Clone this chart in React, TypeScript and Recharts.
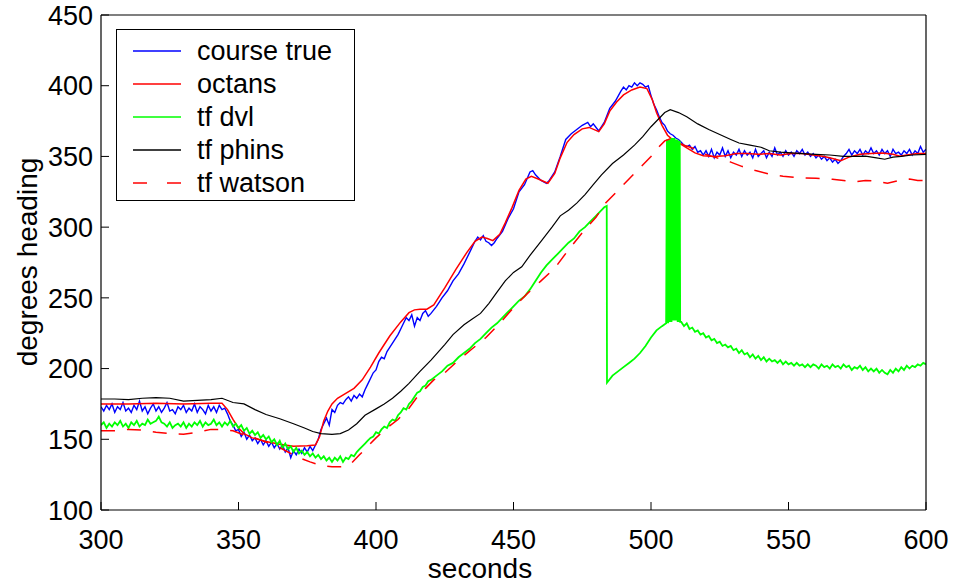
import React from 'react';
import { LineChart, Line, XAxis, YAxis, Legend } from 'recharts';

type P = [number, number];

const xTicks = [300, 350, 400, 450, 500, 550, 600];
const yTicks = [100, 150, 200, 250, 300, 350, 400, 450];

const courseTrue: P[] = [
  [300,173],[301,170],[302,174],[303,171],[304,175],[305,169],[306,173],[307,171],[308,176],[309,170],
  [310,172],[311,169],[312,174],[313,171],[314,177],[315,170],[316,173],[317,168],[318,172],[319,175],
  [320,170],[321,173],[322,169],[323,172],[324,176],[325,170],[326,171],[327,168],[328,173],[329,171],
  [330,174],[331,169],[332,172],[333,170],[334,175],[335,169],[336,173],[337,171],[338,168],[339,174],
  [340,170],[341,173],[342,169],[343,174],[344,171],[345,172],[346,168],[347,163],[348,160],[349,156],
  [350,157],[351,152],[352,155],[353,150],[354,153],[355,149],[356,151],[357,147],[358,150],[359,146],
  [360,149],[361,145],[362,148],[363,144],[364,147],[365,143],[366,146],[367,141],[368,144],[369,137],
  [370,142],[371,139],[372,143],[373,140],[374,144],[375,141],[376,145],[377,142],[378,146],[379,150],
  [380,157],[381,161],[382,165],[383,160],[384,171],[385,169],[386,174],[387,176],[388,175],[389,178],
  [390,180],[391,177],[392,181],[393,179],[394,182],[395,180],[396,185],[397,189],[398,193],[399,197],
  [400,199],[401,205],[402,208],[403,207],[404,212],[405,215],[406,218],[407,221],[408,224],[409,228],
  [410,232],[411,236],[412,234],[413,238],[414,230],[415,236],[416,234],[417,239],[418,241],[419,237],
  [420,239],[422,244],[424,250],[426,255],[428,262],[430,267],[432,274],[434,282],[436,290],[437,293],
  [438,291],[439,294],[440,290],[441,289],[442,287],[443,289],[444,292],[446,297],[448,306],[450,313],
  [452,325],[454,330],[456,339],[457,340],[458,337],[460,333],[462,331],[463,333],[465,339],[467,350],
  [469,362],[471,366],[473,369],[475,372],[477,374],[478,371],[479,373],[481,368],[483,374],[485,384],
  [487,389],[489,396],[490,399],[491,397],[492,400],[493,399],[494,402],[495,400],[496,402],[497,401],
  [498,399],[499,400],[500,393],[501,387],[502,383],[503,378],[504,374],[505,372],[506,368],[507,366],
  [508,365],[509,363],[510,362],[511,360],[512,358],[513,357],[514,358],[515,355],[516,357],[517,353],
  [518,354],[519,351],[520,354],[521,350],[522,355],[523,349],[524,353],[525,351],[526,356],[527,350],
  [528,354],[529,349],[530,353],[531,351],[532,355],[533,350],[534,354],[535,351],[536,353],[537,349],
  [538,355],[539,350],[540,352],[541,354],[542,349],[543,353],[544,350],[545,356],[546,351],[547,353],
  [548,350],[549,354],[550,351],[551,353],[552,350],[553,354],[554,352],[555,355],[556,351],[557,353],
  [558,350],[559,352],[560,349],[561,351],[562,348],[563,350],[564,347],[565,349],[566,346],[567,348],
  [568,345],[569,347],[570,350],[571,352],[572,355],[573,351],[574,354],[575,352],[576,355],[577,351],
  [578,354],[579,352],[580,356],[581,352],[582,354],[583,351],[584,355],[585,352],[586,354],[587,350],
  [588,355],[589,352],[590,353],[591,351],[592,354],[593,352],[594,355],[595,351],[596,354],[597,352],
  [598,357],[599,353],[600,355],
];

const octans: P[] = [
  [300,175],[310,175],[320,175.5],[330,175],[340,175.5],[344,175.5],[346,171],[348,164],[350,158],
  [352,154],[355,151],[360,148.5],[365,146.5],[370,145],[375,145.5],[378,146],[379.5,152],[381,163],
  [382.5,170],[384,175],[386,179],[389,182.5],[392,186],[395,192],[398,201],[401,211],[405,223],
  [409,233],[412,239.5],[414,241.5],[416,242],[418.5,242],[421,245],[425,257],[429,270],[433,282],
  [436,290],[438.5,293],[440.5,292],[442.5,290.5],[445,295],[447,303],[449.5,314],[452,326],
  [454.5,334],[456.5,336],[459,334],[462.5,331],[465,338],[467,349],[469.5,360],[472,365.5],
  [475,369.5],[477.5,370.5],[481,367.5],[483,373],[485,382],[487.5,388.5],[490,393.5],[493,397],
  [496,399],[498.5,398],[500.5,390],[502,381],[504,372],[506,365],[508,361.5],[510.5,359],[513,356],
  [516,352.5],[519,350.5],[523,350],[527,350.5],[531,352],[535,352],[539,351.5],[543,352],[547,351],
  [551,352],[555,352],[559,351],[563,350],[566,348.5],[569,347],[572,349.5],[576,351.5],[580,352],
  [584,352.5],[588,351.5],[590.5,350.2],[593,351],[597,352],[600,352],
];

const tfDvl: P[] = [
  [300,160],[301,162],[302,158],[303,161],[304,159],[305,162],[306,160],[307,163],[308,159],[309,161],
  [310,158],[311,162],[312,160],[313,163],[314,159],[315,161],[316,160],[317,164],[318,161],[319,162],
  [320,163],[321,166],[322,162],[323,161],[324,159],[325,162],[326,158],[327,160],[328,161],[329,159],
  [330,162],[331,158],[332,161],[333,159],[334,162],[335,160],[336,163],[337,159],[338,162],[339,160],
  [340,161],[341,164],[342,160],[343,162],[344,159],[345,162],[346,160],[347,163],[348,159],[349,161],
  [350,158],[351,160],[352,156],[353,158],[354,154],[355,156],[356,153],[357,155],[358,151],[359,153],
  [360,150],[361,152],[362,148],[363,150],[364,146],[365,149],[366,144],[367,147],[368,143],[369,145],
  [370,141],[371,144],[372,140],[373,142],[374,139],[375,141],[376,138],[377,140],[378,137],[379,139],
  [380,136],[381,138],[382,135],[383,137],[384,134],[385,137],[386,135],[387,138],[388,134],[389,137],
  [390,136],[391,139],[392,138],[393,141],[394,143],[395,145],[396,147],[397,149],[398,151],[399,152],
  [400,155],[401,154],[402,157],[403,159],[404,158],[405,162],[406,164],[407,163],[408,167],[409,169],
  [410,172],[411,171],[412,175],[413,177],[414,180],[415,183],[416,184],[417,187],[418,188],[419,191],
  [420,192],[422,195],[424,198],[426,202],[428,204],[430,208],[432,211],[434,214],[436,218],[438,221],
  [440,225],[442,229],[444,232],[446,236],[448,240],[450,244],[452,248],[454,251],[456,256],[458,262],
  [460,268],[462,273],[464,277],[466,281],[468,285],[470,289],[472,292],[474,297],[476,300],[478,304],
  [480,308],[482,312],[483,314],[483.9,315],[484,190],[486,195],[488,198],[490,201],[492,204],
  [494,207],[496,211],[498,216],[500,222],[502,227],[504,230],[505.5,232],
  [505.8,362],[505.95,232],[506.1,362],[506.25,232],[506.4,362],[506.55,233],[506.7,362],[506.85,233],
  [507.0,362],[507.15,233],[507.3,363],[507.45,233],[507.6,363],[507.75,234],[507.9,363],[508.05,234],
  [508.2,363],[508.35,234],[508.5,363],[508.6,234],[508.95,362],[509.1,234],[509.25,362],[509.4,234],
  [509.55,362],[509.7,233],[509.85,361],[510.0,233],[510.15,361],[510.3,233],[510.45,361],[510.6,233],
  [511,233],[512,230],[513,232],[514,228],[515,229],[516,226],[517,227],[518,224],[519,225],[520,222],
  [521,223],[522,220],[523,221],[524,218],[525,219],[526,216],[527,217],[528,215],[529,216],[530,213],
  [531,214],[532,211],[533,213],[534,210],[535,211],[536,208],[537,210],[538,207],[539,209],[540,206],
  [541,208],[542,205],[543,207],[544,205],[545,206],[546,204],[547,206],[548,203],[549,205],[550,203],
  [551,204],[552,202],[553,204],[554,202],[555,203],[556,201],[557,203],[558,201],[559,203],[560,202],
  [561,200],[562,203],[563,201],[564,202],[565,200],[566,203],[567,201],[568,202],[569,200],[570,203],
  [571,201],[572,202],[573,199],[574,201],[575,200],[576,202],[577,199],[578,201],[579,198],[580,200],
  [581,198],[582,200],[583,197],[584,199],[585,197],[586,196],[587,199],[588,197],[589,200],[590,198],
  [591,201],[592,199],[593,202],[594,200],[595,202],[596,201],[597,203],[598,202],[599,204],[600,203],
];

const tfPhins: P[] = [
  [300,178.5],[305,178.5],[310,178],[315,179],[320,179.5],[325,179],[330,177],[335,177.5],[340,178],
  [344,179],[348,176],[352,175],[356,171],[360,167.5],[365,164.5],[370,161],[374,158],[377,155.5],
  [380,154],[384,153.5],[387,154],[390,156.5],[393,161],[396,167],[400,171.5],[403,175],[406,179],
  [409,184],[412,189.5],[416,198],[420,206],[425,217],[428,224],[432,231],[435,235],[438,239],
  [441,246],[444,254],[447,262],[450,268],[453,272],[456,280],[460,290],[464,300],[467,308],[470,312],
  [473,317],[476,323],[479,330],[482,337],[486,345],[490,351],[494,358],[497,364],[500,371],[503,377],
  [505,381],[507,383],[510,381],[513,378],[517,373],[521,369],[525,365.5],[529,362],[532,359.5],
  [536,358],[540,356.5],[543,354],[547,353],[551,352.5],[555,352],[560,351.5],[565,351],[570,350],
  [574,350],[578,350.2],[582,349],[585,348],[588,349.5],[591,350],[595,351],[600,351.5],
];

const tfWatson: P[] = [
  [300,156],[305,156],[310,157],[315,156.5],[320,155],[325,154],[330,153.5],[335,155],[340,157],
  [344,157],[348,156],[352,153],[356,151],[360,148],[364,145],[368,141],[372,137],[376,134],
  [380,131.5],[384,130.5],[388,130.5],[391,133],[394,139],[397,145],[400,151],[404,158],[408,164],
  [412,172],[415,180],[418,186],[421,192],[425,197],[430,206],[435,214],[440,222],[445,232],[450,243],
  [455,253],[460,262],[465,271],[470,284],[475,296],[480,307],[483.5,317],[488,326],[492,334],
  [496,342],[500,350],[503,357],[505,361],[507,362.5],[509,361],[512,358],[515,356],[519,352],
  [524,349],[529,346],[533,343],[538,340],[543,337.5],[548,336],[554,335],[560,334.5],[566,333.8],
  [570,333],[574,332],[578,333],[582,332.5],[586,331],[590,333],[594,334],[597,333],[600,333],
];

const seriesNames = ['course true', 'octans', 'tf dvl', 'tf phins', 'tf watson'];
const seriesColors = ['#0000ff', '#ff0000', '#00ff00', '#000000', '#ff0000'];

const toPts = (a: P[]) => a.map(([x, y]) => ({ x, y }));

const W = 955;
const H = 583;
const LEFT = 101;
const RIGHT = 926;
const TOP = 15;
const BOTTOM = 510;
const LEFT_W = LEFT;
const RIGHT_W = W - RIGHT;
const TOP_H = TOP;
const BOTTOM_H = H - BOTTOM;
const FONT = '"Liberation Sans", Arial, Helvetica, sans-serif';
const FS = 27;
const TL = 8;

const BottomTick = (p: any) => (
  <g>
    <line x1={p.x} x2={p.x} y1={BOTTOM} y2={BOTTOM - TL} stroke="#000" strokeWidth={1} />
    <text x={p.x} y={BOTTOM + 39} textAnchor="middle" fontSize={FS} fontFamily={FONT} fill="#000">
      {p.payload.value}
    </text>
  </g>
);
const TopTick = (p: any) => (
  <line x1={p.x} x2={p.x} y1={TOP} y2={TOP + TL} stroke="#000" strokeWidth={1} />
);
const LeftTick = (p: any) => (
  <g>
    <line x1={LEFT} x2={LEFT + TL} y1={p.y} y2={p.y} stroke="#000" strokeWidth={1} />
    <text x={LEFT - 8} y={p.y} dy="0.36em" textAnchor="end" fontSize={FS} fontFamily={FONT} fill="#000">
      {p.payload.value}
    </text>
  </g>
);
const RightTick = (p: any) => (
  <line x1={RIGHT} x2={RIGHT - TL} y1={p.y} y2={p.y} stroke="#000" strokeWidth={1} />
);

const LegendBox = () => (
  <div
    style={{
      boxSizing: 'border-box',
      width: 239,
      height: 172,
      border: '1.5px solid #000',
      background: '#fff',
      fontFamily: FONT,
      fontSize: 27,
      paddingTop: 4,
    }}
  >
    {seriesNames.map((n, i) => (
      <div key={n} style={{ display: 'flex', alignItems: 'center', height: 33, lineHeight: '32px' }}>
        <svg width={80} height={10} style={{ flex: 'none' }}>
          {i === 4 ? (
            <g stroke={seriesColors[i]} strokeWidth={1.5}>
              <line x1={16} x2={30} y1={5} y2={5} />
              <line x1={50} x2={64} y1={5} y2={5} />
            </g>
          ) : (
            <line x1={16} x2={64} y1={5} y2={5} stroke={seriesColors[i]} strokeWidth={1.5} />
          )}
        </svg>
        <span style={{ color: '#000', whiteSpace: 'nowrap' }}>{n}</span>
      </div>
    ))}
  </div>
);

const lineData = [courseTrue, octans, tfDvl, tfPhins, tfWatson];
const widths = [1.4, 1.5, 1.8, 1.2, 1.5];

const XLabel = () => (
  <text x={480} y={BOTTOM + 68} textAnchor="middle" fontSize={28} fontFamily={FONT} fill="#000">
    seconds
  </text>
);
const YLabel = () => (
  <text
    x={27}
    y={262}
    transform="rotate(-90 27 262)"
    textAnchor="middle"
    dy="0.36em"
    fontSize={28}
    fontFamily={FONT}
    fill="#000"
  >
    degrees heading
  </text>
);

export default function App() {
  return (
    <div style={{ position: 'absolute', left: 0, top: 0, width: W, height: H, background: '#fff' }}>
      <LineChart width={W} height={H} margin={{ top: 0, right: 0, bottom: 0, left: 0 }}>
        <XAxis
          xAxisId="b"
          type="number"
          dataKey="x"
          domain={[300, 600]}
          ticks={xTicks}
          height={BOTTOM_H}
          allowDataOverflow
          axisLine={{ stroke: '#000', strokeWidth: 1.2 }}
          tickLine={false}
          tick={BottomTick}
          interval={0}
          label={XLabel}
        />
        <XAxis
          xAxisId="t"
          orientation="top"
          type="number"
          dataKey="x"
          domain={[300, 600]}
          ticks={xTicks}
          height={TOP_H}
          axisLine={{ stroke: '#000', strokeWidth: 1.2 }}
          tickLine={false}
          tick={TopTick}
          interval={0}
        />
        <YAxis
          yAxisId="l"
          type="number"
          domain={[100, 450]}
          ticks={yTicks}
          width={LEFT_W}
          allowDataOverflow
          axisLine={{ stroke: '#000', strokeWidth: 1.2 }}
          tickLine={false}
          tick={LeftTick}
          interval={0}
          label={YLabel}
        />
        <YAxis
          yAxisId="r"
          orientation="right"
          type="number"
          domain={[100, 450]}
          ticks={yTicks}
          width={RIGHT_W}
          axisLine={{ stroke: '#000', strokeWidth: 1.2 }}
          tickLine={false}
          tick={RightTick}
          interval={0}
        />
        {lineData.map((d, i) => (
          <Line
            key={seriesNames[i]}
            xAxisId="b"
            yAxisId="l"
            data={toPts(d)}
            dataKey="y"
            name={seriesNames[i]}
            type="linear"
            stroke={seriesColors[i]}
            strokeWidth={widths[i]}
            strokeDasharray={i === 4 ? '14 12' : undefined}
            dot={false}
            activeDot={false}
            isAnimationActive={false}
          />
        ))}
        <Legend
          layout="horizontal"
          verticalAlign="middle"
          align="center"
          width={239}
          height={172}
          wrapperStyle={{ left: 116, top: 29, width: 239, height: 172 }}
          content={() => <LegendBox />}
        />
      </LineChart>
    </div>
  );
}
